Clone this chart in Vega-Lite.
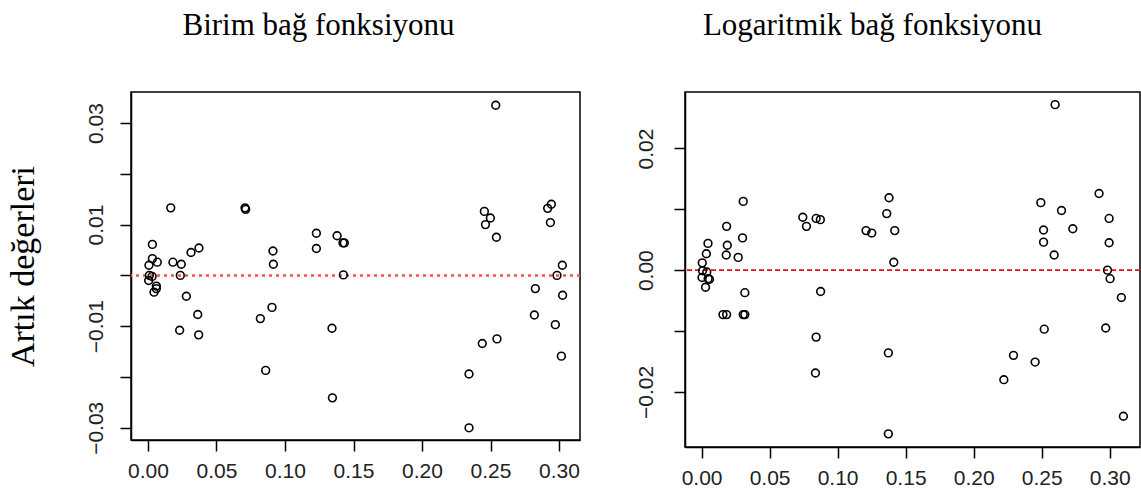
{
  "$schema": "https://vega.github.io/schema/vega-lite/v6.json",
  "background": "white",
  "padding": {"left": 5, "top": 9, "right": 2, "bottom": 2},
  "spacing": 52,
  "config": {
    "view": {"stroke": "black", "strokeWidth": 1.5},
    "axis": {
      "grid": false,
      "domainColor": "black",
      "domainWidth": 1.5,
      "tickColor": "black",
      "tickWidth": 1.5,
      "tickSize": 11,
      "labelFont": "Liberation Sans",
      "labelFontSize": 21,
      "labelColor": "#222",
      "titleFont": "Liberation Serif",
      "titleFontWeight": "normal",
      "titleColor": "black"
    },
    "title": {"font": "Liberation Serif", "fontSize": 31, "fontWeight": "normal", "color": "black", "offset": 50}
  },
  "datasets": {
    "birim": [
      {"x": 0.0166, "y": 0.0133}, {"x": 0.0708, "y": 0.0133}, {"x": 0.0713, "y": 0.0130},
      {"x": 0.0032, "y": 0.0061}, {"x": 0.0032, "y": 0.0033}, {"x": 0.0068, "y": 0.0026},
      {"x": 0.0007, "y": 0.0020}, {"x": 0.0010, "y": 0.0000}, {"x": 0.0030, "y": -0.0002},
      {"x": 0.0005, "y": -0.0010}, {"x": 0.0061, "y": -0.0021}, {"x": 0.0061, "y": -0.0026},
      {"x": 0.0044, "y": -0.0033}, {"x": 0.0182, "y": 0.0026}, {"x": 0.0243, "y": 0.0022},
      {"x": 0.0236, "y": 0.0000}, {"x": 0.0314, "y": 0.0045}, {"x": 0.0372, "y": 0.0054},
      {"x": 0.0280, "y": -0.0041}, {"x": 0.0363, "y": -0.0077}, {"x": 0.0231, "y": -0.0108},
      {"x": 0.0370, "y": -0.0117}, {"x": 0.0912, "y": 0.0048}, {"x": 0.0915, "y": 0.0022},
      {"x": 0.0905, "y": -0.0063}, {"x": 0.0820, "y": -0.0085}, {"x": 0.0859, "y": -0.0187},
      {"x": 0.1229, "y": 0.0083}, {"x": 0.1229, "y": 0.0053}, {"x": 0.1380, "y": 0.0078},
      {"x": 0.1423, "y": 0.0064}, {"x": 0.1433, "y": 0.0064}, {"x": 0.1426, "y": 0.0001},
      {"x": 0.1343, "y": -0.0104}, {"x": 0.1346, "y": -0.0241}, {"x": 0.2538, "y": 0.0335},
      {"x": 0.2455, "y": 0.0126}, {"x": 0.2499, "y": 0.0113}, {"x": 0.2463, "y": 0.0100},
      {"x": 0.2543, "y": 0.0075}, {"x": 0.2944, "y": 0.0140}, {"x": 0.2917, "y": 0.0132},
      {"x": 0.2937, "y": 0.0104}, {"x": 0.3024, "y": 0.0020}, {"x": 0.2985, "y": 0.0000},
      {"x": 0.2827, "y": -0.0026}, {"x": 0.3026, "y": -0.0039}, {"x": 0.2820, "y": -0.0078},
      {"x": 0.2973, "y": -0.0097}, {"x": 0.3017, "y": -0.0159}, {"x": 0.2547, "y": -0.0125},
      {"x": 0.2440, "y": -0.0134}, {"x": 0.2343, "y": -0.0194}, {"x": 0.2343, "y": -0.0300}
    ],
    "log": [
      {"x": 0.0047, "y": 0.0044}, {"x": 0.0035, "y": 0.0027}, {"x": 0.0005, "y": 0.0012},
      {"x": 0.0007, "y": -0.0001}, {"x": 0.0038, "y": -0.0003}, {"x": 0.0003, "y": -0.0012},
      {"x": 0.0048, "y": -0.0014}, {"x": 0.0058, "y": -0.0015}, {"x": 0.0029, "y": -0.0028},
      {"x": 0.0184, "y": 0.0072}, {"x": 0.0189, "y": 0.0041}, {"x": 0.0181, "y": 0.0025},
      {"x": 0.0269, "y": 0.0021}, {"x": 0.0306, "y": 0.0113}, {"x": 0.0301, "y": 0.0053},
      {"x": 0.0318, "y": -0.0037}, {"x": 0.0157, "y": -0.0073}, {"x": 0.0184, "y": -0.0073},
      {"x": 0.0306, "y": -0.0073}, {"x": 0.0318, "y": -0.0073}, {"x": 0.0744, "y": 0.0087},
      {"x": 0.0771, "y": 0.0072}, {"x": 0.0842, "y": 0.0085}, {"x": 0.0873, "y": 0.0083},
      {"x": 0.0875, "y": -0.0035}, {"x": 0.0842, "y": -0.0110}, {"x": 0.0837, "y": -0.0169},
      {"x": 0.1209, "y": 0.0065}, {"x": 0.1251, "y": 0.0061}, {"x": 0.1378, "y": 0.0119},
      {"x": 0.1361, "y": 0.0093}, {"x": 0.1420, "y": 0.0065}, {"x": 0.1413, "y": 0.0013},
      {"x": 0.1373, "y": -0.0136}, {"x": 0.1373, "y": -0.0269}, {"x": 0.2599, "y": 0.0272},
      {"x": 0.2922, "y": 0.0126}, {"x": 0.2494, "y": 0.0111}, {"x": 0.2646, "y": 0.0098},
      {"x": 0.2729, "y": 0.0068}, {"x": 0.2514, "y": 0.0066}, {"x": 0.2514, "y": 0.0046},
      {"x": 0.2592, "y": 0.0025}, {"x": 0.2996, "y": 0.0085}, {"x": 0.2996, "y": 0.0045},
      {"x": 0.2984, "y": 0.0000}, {"x": 0.3003, "y": -0.0014}, {"x": 0.3086, "y": -0.0045},
      {"x": 0.2971, "y": -0.0095}, {"x": 0.2519, "y": -0.0097}, {"x": 0.2293, "y": -0.0140},
      {"x": 0.2452, "y": -0.0151}, {"x": 0.2222, "y": -0.0180}, {"x": 0.3101, "y": -0.0240}
    ]
  },
  "hconcat": [
    {
      "title": {"text": "Birim bağ fonksiyonu", "dx": -37},
      "width": 449,
      "height": 348,
      "layer": [
        {
          "data": {"values": [{"z": 0}]},
          "mark": {"type": "rule", "color": "#ff4d4d", "strokeWidth": 2.5, "strokeDash": [3, 4]},
          "encoding": {"y": {"field": "z", "type": "quantitative", "scale": {"domain": [-0.0324, 0.0361], "nice": false, "zero": false}}}
        },
        {
          "data": {"name": "birim"},
          "mark": {"type": "point", "shape": "circle", "filled": false, "color": "black", "strokeWidth": 1.6, "size": 60, "opacity": 1},
          "encoding": {
            "x": {"field": "x", "type": "quantitative", "title": null,
                  "scale": {"domain": [-0.0124, 0.3153], "nice": false, "zero": false},
                  "axis": {"values": [0, 0.05, 0.1, 0.15, 0.2, 0.25, 0.3], "format": ".2f", "labelPadding": 9, "labelFlush": false}},
            "y": {"field": "y", "type": "quantitative", "title": "Artık değerleri",
                  "scale": {"domain": [-0.0324, 0.0361], "nice": false, "zero": false},
                  "axis": {"values": [-0.03, -0.02, -0.01, 0, 0.01, 0.02, 0.03],
                           "labelExpr": "abs(round(datum.value*100)) % 2 == 1 ? format(datum.value, '.2f') : ''",
                           "labelAngle": 270, "labelAlign": "center", "labelBaseline": "bottom", "labelPadding": 14,
                           "labelFlush": false, "titleFontSize": 34, "titlePadding": 45}}
          }
        }
      ]
    },
    {
      "title": {"text": "Logaritmik bağ fonksiyonu", "dx": -40},
      "width": 455,
      "height": 355,
      "layer": [
        {
          "data": {"values": [{"z": 0}]},
          "mark": {"type": "rule", "color": "#ee1111", "strokeWidth": 1.6, "strokeDash": [5, 3]},
          "encoding": {"y": {"field": "z", "type": "quantitative", "scale": {"domain": [-0.02906, 0.02928], "nice": false, "zero": false}}}
        },
        {
          "data": {"name": "log"},
          "mark": {"type": "point", "shape": "circle", "filled": false, "color": "black", "strokeWidth": 1.6, "size": 60, "opacity": 1},
          "encoding": {
            "x": {"field": "x", "type": "quantitative", "title": null,
                  "scale": {"domain": [-0.0122, 0.3223], "nice": false, "zero": false},
                  "axis": {"values": [0, 0.05, 0.1, 0.15, 0.2, 0.25, 0.3], "format": ".2f", "labelPadding": 9, "labelFlush": false}},
            "y": {"field": "y", "type": "quantitative", "title": null,
                  "scale": {"domain": [-0.02906, 0.02928], "nice": false, "zero": false},
                  "axis": {"values": [-0.02, -0.01, 0, 0.01, 0.02],
                           "labelExpr": "abs(round(datum.value*100)) % 2 == 0 ? format(datum.value, '.2f') : ''",
                           "labelAngle": 270, "labelAlign": "center", "labelBaseline": "bottom", "labelPadding": 18,
                           "labelFlush": false}}
          }
        }
      ]
    }
  ]
}
